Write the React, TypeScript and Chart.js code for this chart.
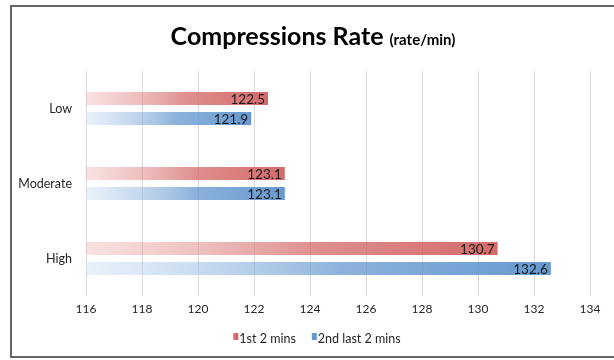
import React, { useEffect, useRef } from "react";
import { Chart, registerables } from "chart.js";

Chart.register(...registerables);

const categories = ["Low", "Moderate", "High"];
const seriesNames = ["1st 2 mins", "2nd last 2 mins"];
const firstTwoMins = [122.5, 123.1, 130.7];
const secondLastTwoMins = [121.9, 123.1, 132.6];
const xTicksMin = 116;
const xTicksMax = 134;
const xTicksStep = 2;
const titleMain = "Compressions Rate";
const titleUnit = "(rate/min)";

const FONT = "Lato, 'Open Sans', sans-serif";

const redSolid = "#d46b6a";
const redLight = "rgba(242, 190, 190, 0.45)";
const blueSolid = "#6699d0";
const blueLight = "rgba(200, 220, 242, 0.4)";
const seriesColors = [redSolid, blueSolid];

function gradientFor(solid: string, light: string) {
  return (ctx: any) => {
    const chart = ctx.chart;
    const area = chart.chartArea;
    const xs = chart.scales?.x;
    if (!area || !xs || typeof ctx.raw !== "number") return solid;
    const x0 = xs.getPixelForValue(xTicksMin);
    const x1 = xs.getPixelForValue(ctx.raw);
    const g = chart.ctx.createLinearGradient(x0, 0, Math.max(x1, x0 + 1), 0);
    g.addColorStop(0, light);
    g.addColorStop(0.55, solid + "c0");
    g.addColorStop(1, solid);
    return g;
  };
}

const framePlugin = {
  id: "frameAndTitle",
  beforeDraw(chart: any) {
    const c = chart.ctx;
    c.save();
    c.fillStyle = "#ffffff";
    c.fillRect(0, 0, chart.width, chart.height);
    c.fillStyle = "#666666";
    c.fillRect(10, 5, chart.width - 10, 2);
    c.fillRect(10, 5, 2, 353);
    c.fillRect(10, 356, chart.width - 10, 2);
    c.restore();
  },
  afterDraw(chart: any) {
    const c = chart.ctx;
    c.save();
    c.fillStyle = "#000000";
    c.textBaseline = "alphabetic";
    c.textAlign = "left";
    const mainFont = `bold 25px ${FONT}`;
    const unitFont = `bold 15px ${FONT}`;
    c.font = mainFont;
    const w1 = c.measureText(titleMain + " ").width;
    c.font = unitFont;
    const w2 = c.measureText(titleUnit).width;
    const cx = 313;
    const x = cx - (w1 + w2) / 2;
    c.font = mainFont;
    c.fillText(titleMain + " ", x, 45);
    c.font = unitFont;
    c.fillText(titleUnit, x + w1, 45);

    // legend
    c.font = `12.5px ${FONT}`;
    c.textBaseline = "middle";
    const widths = seriesNames.map((s) => c.measureText(s).width);
    const boxW = 5;
    const gap = 1;
    const spacing = 16;
    const total = widths.reduce((a, w) => a + boxW + gap + w, 0) + spacing * (seriesNames.length - 1);
    let lx = 317 - total / 2;
    seriesNames.forEach((s, i) => {
      c.fillStyle = seriesColors[i];
      c.fillRect(lx, 333, boxW, 7);
      c.fillStyle = "#262626";
      c.fillText(s, lx + boxW + gap, 339);
      lx += boxW + gap + widths[i] + spacing;
    });
    c.restore();
  },
};

const labelPlugin = {
  id: "barValueLabels",
  afterDatasetsDraw(chart: any) {
    const c = chart.ctx;
    c.save();
    c.font = `13.5px ${FONT}`;
    c.fillStyle = "#1a1a1a";
    c.textAlign = "right";
    c.textBaseline = "middle";
    chart.data.datasets.forEach((ds: any, di: number) => {
      const meta = chart.getDatasetMeta(di);
      meta.data.forEach((el: any, i: number) => {
        const v = ds.data[i];
        c.fillText(v.toFixed(1), el.x - 3, el.y + 1);
      });
    });
    c.restore();
  },
};

export default function App() {
  const ref = useRef<HTMLCanvasElement | null>(null);

  useEffect(() => {
    if (!ref.current) return;
    const chart = new Chart(ref.current, {
      type: "bar",
      data: {
        labels: categories,
        datasets: [
          {
            label: seriesNames[0],
            data: firstTwoMins,
            backgroundColor: gradientFor(redSolid, redLight),
            borderWidth: 0,
            categoryPercentage: 0.535,
            barPercentage: 0.65,
          },
          {
            label: seriesNames[1],
            data: secondLastTwoMins,
            backgroundColor: gradientFor(blueSolid, blueLight),
            borderWidth: 0,
            categoryPercentage: 0.535,
            barPercentage: 0.65,
          },
        ],
      },
      options: {
        indexAxis: "y",
        animation: false,
        responsive: false,
        maintainAspectRatio: false,
        layout: { padding: { top: 71, left: 0, right: 24, bottom: 38 } },
        scales: {
          x: {
            min: xTicksMin,
            max: xTicksMax,
            ticks: {
              stepSize: xTicksStep,
              padding: 6,
              color: "#262626",
              font: { family: FONT, size: 12 },
            },
            grid: { color: "#d9d9d9", lineWidth: 1, drawTicks: false },
            border: { display: false },
            afterFit: (s: any) => {
              s.height = 26;
            },
          },
          y: {
            ticks: {
              padding: 14,
              color: "#262626",
              font: { family: FONT, size: 12.5 },
            },
            grid: { display: false, drawTicks: false },
            border: { display: false },
            afterFit: (s: any) => {
              s.width = 86;
            },
          },
        },
        plugins: {
          title: { display: false },
          tooltip: { enabled: false },
          legend: { display: false },
        },
      },
      plugins: [framePlugin, labelPlugin],
    });
    return () => chart.destroy();
  }, []);

  return (
    <div style={{ position: "absolute", left: 0, top: 0, width: 614, height: 360, overflow: "hidden" }}>
      <canvas ref={ref} width={614} height={360} style={{ display: "block", width: 614, height: 360 }} />
    </div>
  );
}
